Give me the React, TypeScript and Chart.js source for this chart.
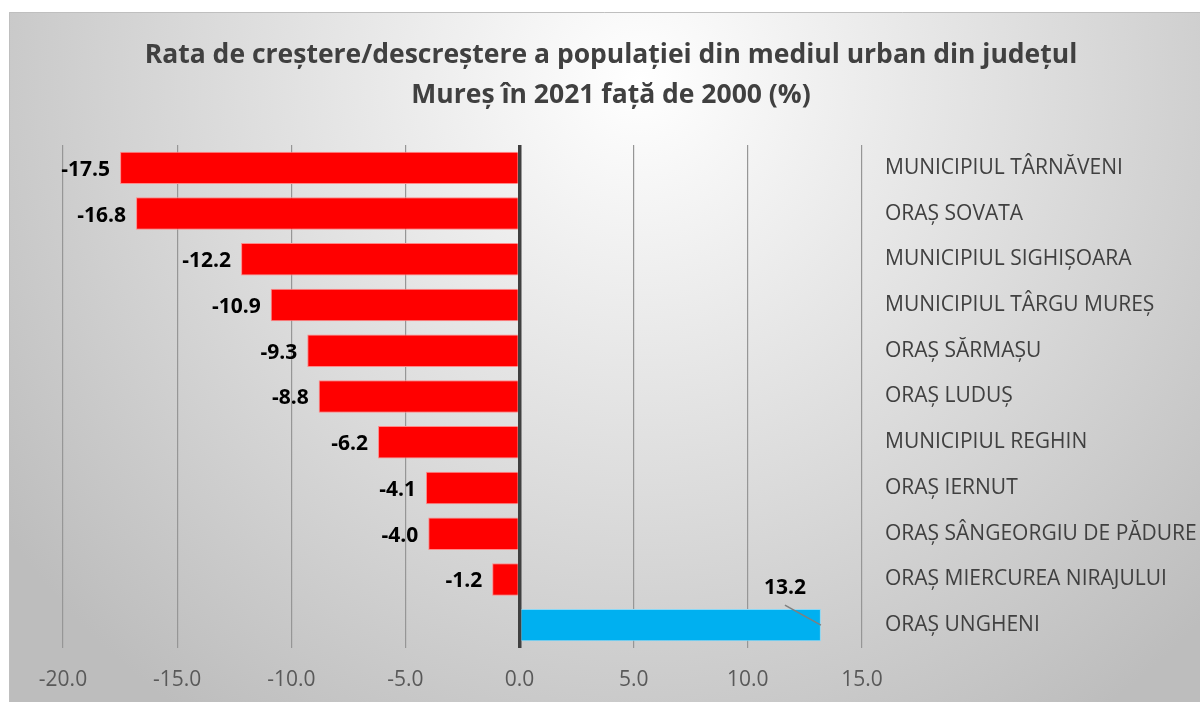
import { useEffect, useRef } from "react";
import { Chart, registerables } from "chart.js";

Chart.register(...registerables);

const categories = [
  "MUNICIPIUL TÂRNĂVENI",
  "ORAȘ SOVATA",
  "MUNICIPIUL SIGHIȘOARA",
  "MUNICIPIUL TÂRGU MUREȘ",
  "ORAȘ SĂRMAȘU",
  "ORAȘ LUDUȘ",
  "MUNICIPIUL REGHIN",
  "ORAȘ IERNUT",
  "ORAȘ SÂNGEORGIU DE PĂDURE",
  "ORAȘ MIERCUREA NIRAJULUI",
  "ORAȘ UNGHENI",
];

const values = [-17.5, -16.8, -12.2, -10.9, -9.3, -8.8, -6.2, -4.1, -4.0, -1.2, 13.2];

const titleLines = [
  "Rata de creștere/descreștere a populației din mediul urban din județul",
  "Mureș în 2021 față de 2000 (%)",
];

const xMin = -20;
const xMax = 15;
const xStep = 5;

const FONT = '"Open Sans", "DejaVu Sans", sans-serif';

const backgroundPlugin = {
  id: "bgPanel",
  beforeDraw(chart: any) {
    const { ctx, width, height } = chart;
    const x0 = 9;
    const y0 = 12;
    ctx.save();
    const g = ctx.createRadialGradient(640, 80, 0, 640, 80, 780);
    g.addColorStop(0, "#ffffff");
    g.addColorStop(1, "#bdbdbd");
    ctx.fillStyle = "#ffffff";
    ctx.fillRect(0, 0, width, height);
    ctx.fillStyle = g;
    ctx.fillRect(x0, y0, width - x0, height - y0);
    ctx.strokeStyle = "#bfbfbf";
    ctx.lineWidth = 1;
    ctx.beginPath();
    ctx.moveTo(x0 + 0.5, height);
    ctx.lineTo(x0 + 0.5, y0 + 0.5);
    ctx.lineTo(width, y0 + 0.5);
    ctx.stroke();
    ctx.restore();
  },
};

const titlePlugin = {
  id: "customTitle",
  afterDraw(chart: any) {
    const { ctx } = chart;
    ctx.save();
    ctx.font = `bold 26.5px ${FONT}`;
    ctx.fillStyle = "#404040";
    ctx.textAlign = "center";
    ctx.textBaseline = "middle";
    titleLines.forEach((line, i) => {
      ctx.fillText(line, 611, 55 + i * 40);
    });
    ctx.restore();
  },
};

const dataLabelPlugin = {
  id: "dataLabels",
  afterDatasetsDraw(chart: any) {
    const { ctx } = chart;
    const meta = chart.getDatasetMeta(0);
    ctx.save();
    ctx.font = `bold 21px ${FONT}`;
    ctx.fillStyle = "#000000";
    ctx.textBaseline = "middle";
    meta.data.forEach((bar: any, i: number) => {
      const v = values[i];
      const text = v.toFixed(1);
      if (v < 0) {
        ctx.textAlign = "right";
        ctx.fillText(text, bar.x - 10, bar.y + 2);
      } else {
        ctx.textAlign = "center";
        ctx.fillText(text, bar.x - 36, bar.y - 37);
        ctx.strokeStyle = "#7f7f7f";
        ctx.lineWidth = 1.5;
        ctx.beginPath();
        ctx.moveTo(bar.x - 36, bar.y - 20);
        ctx.lineTo(bar.x, bar.y);
        ctx.stroke();
      }
    });
    ctx.restore();
  },
};

export default function App() {
  const canvasRef = useRef<HTMLCanvasElement | null>(null);

  useEffect(() => {
    if (!canvasRef.current) return;
    const chart = new Chart(canvasRef.current, {
      type: "bar",
      data: {
        labels: categories,
        datasets: [
          {
            data: values,
            backgroundColor: values.map((v) => (v < 0 ? "#ff0000" : "#00b0f0")),
            borderColor: values.map((v) => (v < 0 ? "#ff8a8a" : "#8ad9f7")),
            borderWidth: 1,
            categoryPercentage: 1,
            barPercentage: 0.71,
          },
        ],
      },
      options: {
        indexAxis: "y",
        responsive: false,
        animation: false,
        events: [],
        layout: { padding: { top: 145, left: 63, right: 0, bottom: 0 } },
        plugins: {
          legend: { display: false },
          title: { display: false },
          tooltip: { enabled: false },
        },
        scales: {
          x: {
            type: "linear",
            min: xMin,
            max: xMax,
            ticks: {
              stepSize: xStep,
              padding: 19,
              color: "#595959",
              font: { family: FONT, size: 21 },
              callback: (v: any) => Number(v).toFixed(1),
            },
            grid: {
              drawTicks: false,
              color: (c: any) => (c.tick && c.tick.value === 0 ? "#404040" : "#969696"),
              lineWidth: (c: any) => (c.tick && c.tick.value === 0 ? 3.5 : 1.2),
            },
            border: { display: false },
            afterFit: (s: any) => {
              s.height = 54;
            },
          },
          y: {
            type: "category",
            position: "right",
            ticks: {
              padding: 23,
              color: "#404040",
              font: { family: FONT, size: 21 },
            },
            grid: { display: false, drawTicks: false },
            border: { display: false },
            afterFit: (s: any) => {
              s.width = 338;
            },
          },
        },
      },
      plugins: [backgroundPlugin, titlePlugin, dataLabelPlugin],
    } as any);
    return () => chart.destroy();
  }, []);

  return (
    <div style={{ position: "absolute", left: 0, top: 0, width: 1200, height: 702 }}>
      <canvas ref={canvasRef} width={1200} height={702} style={{ display: "block" }} />
    </div>
  );
}
